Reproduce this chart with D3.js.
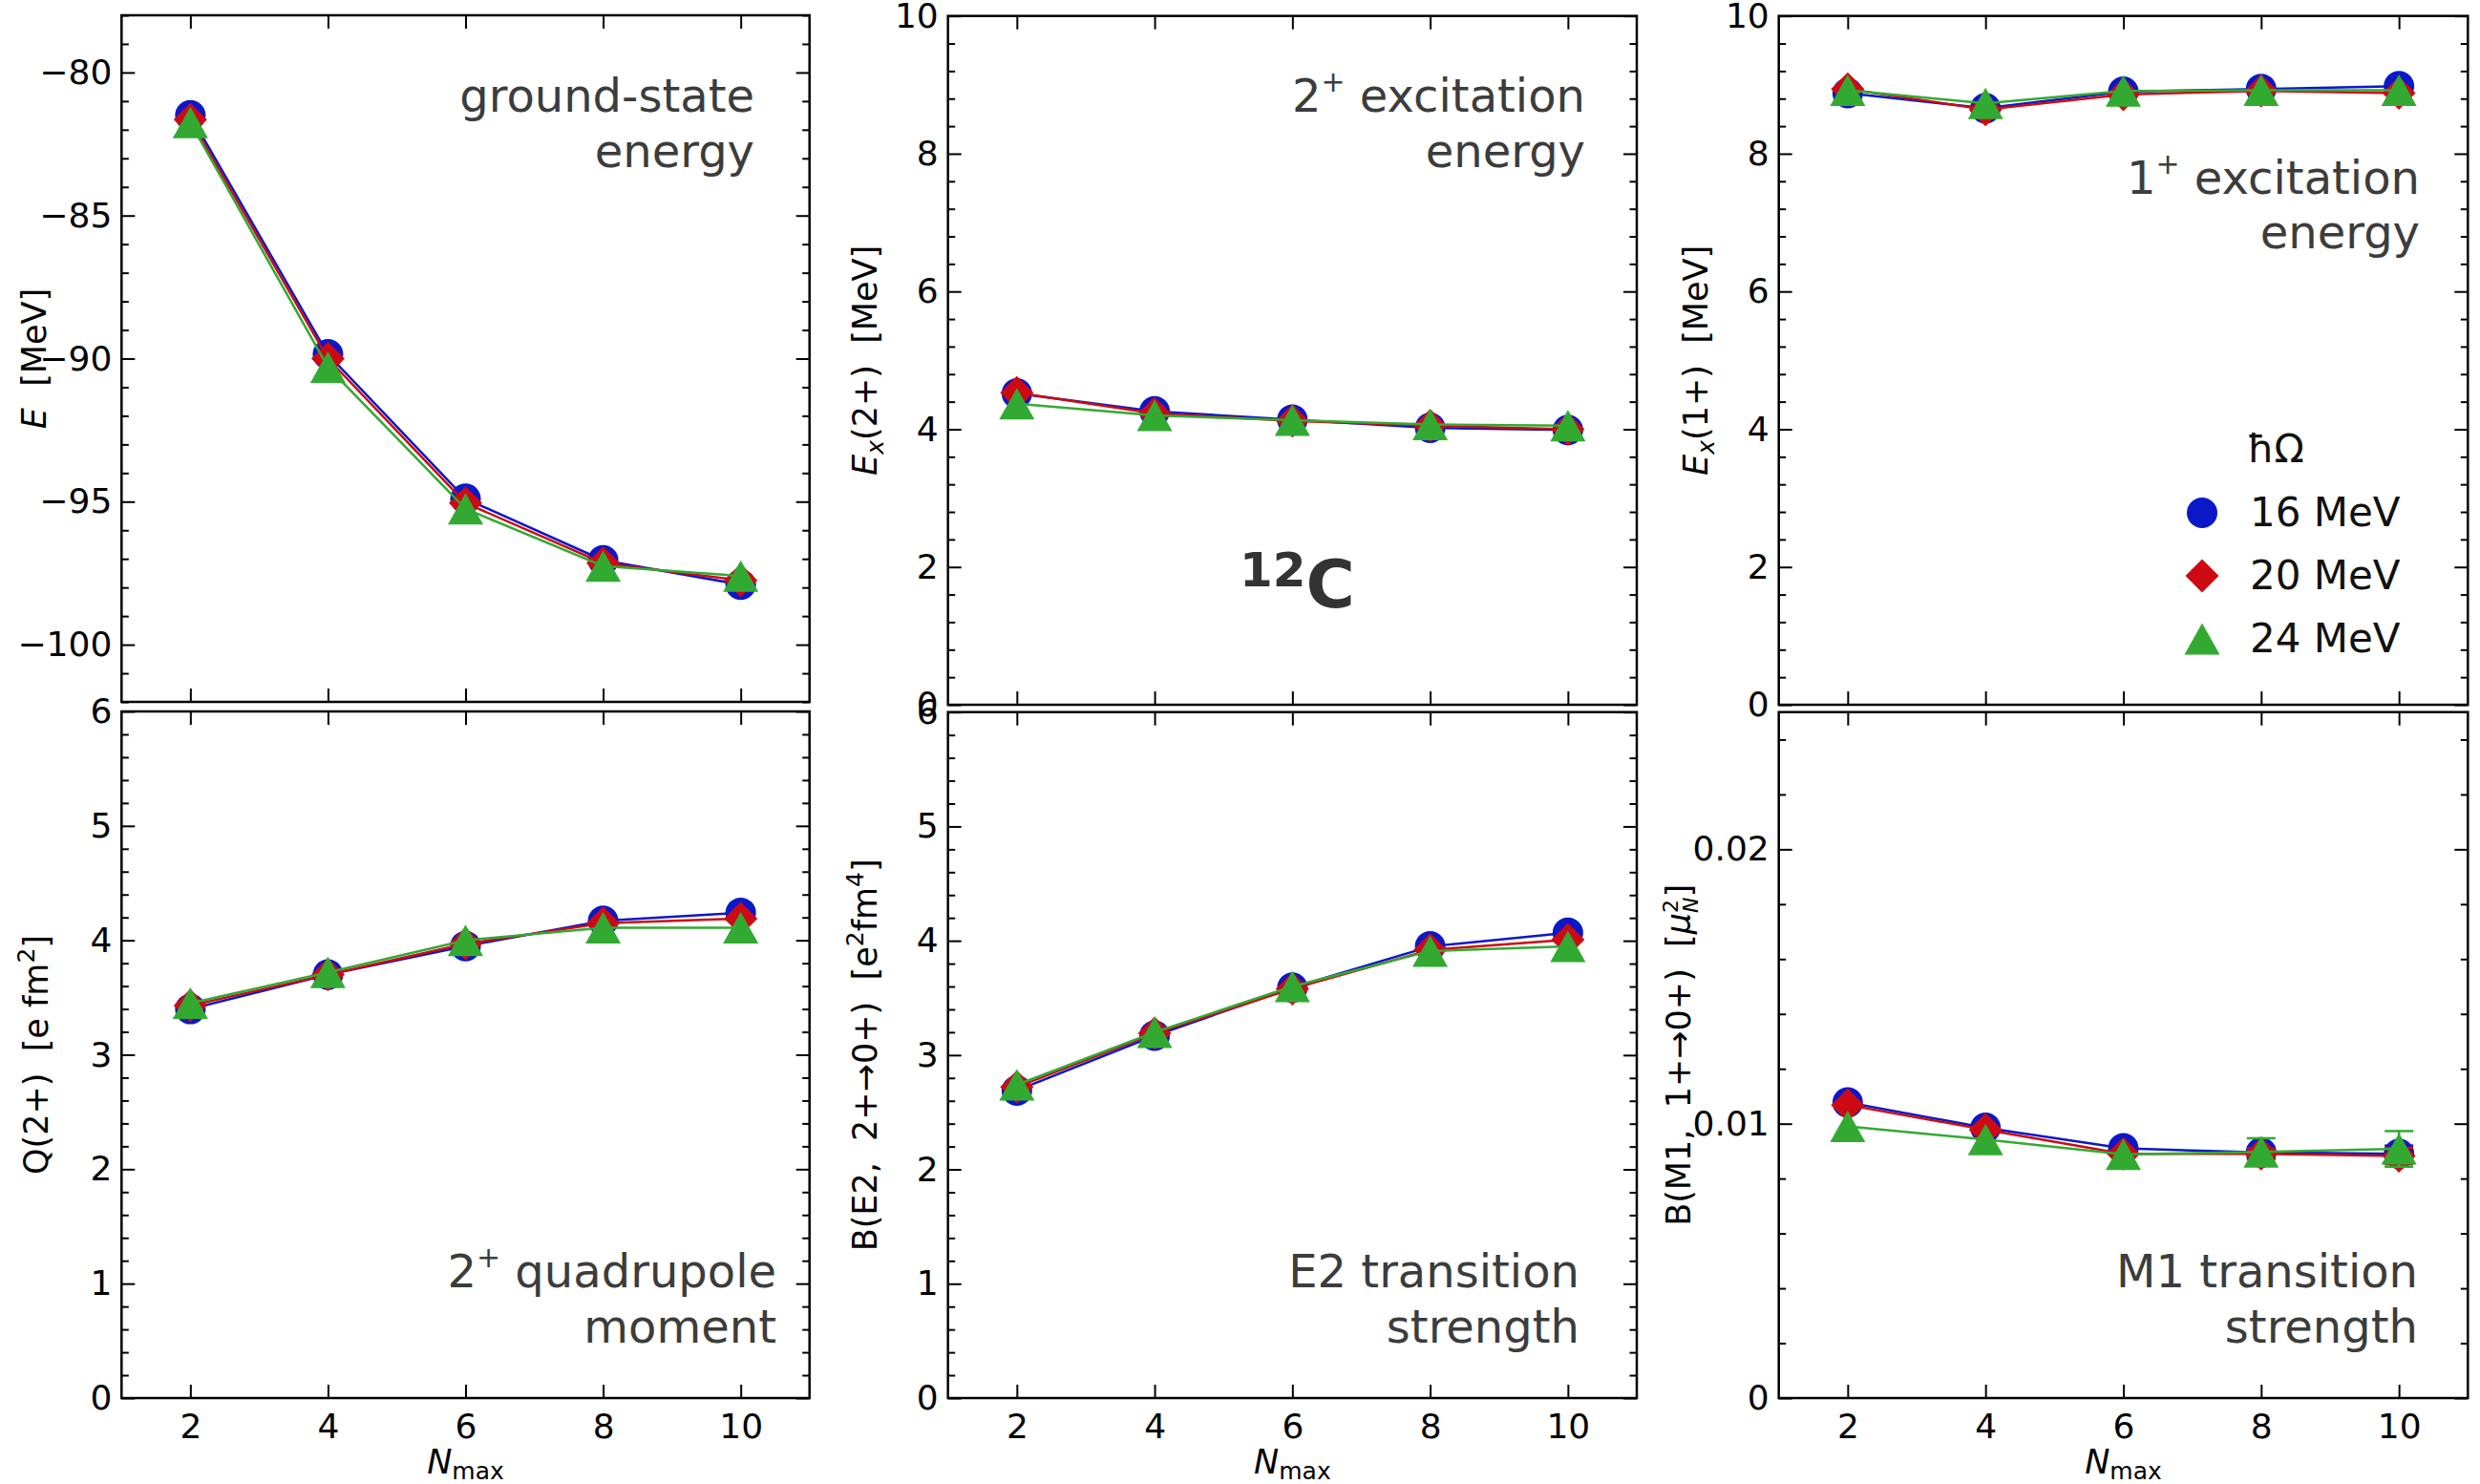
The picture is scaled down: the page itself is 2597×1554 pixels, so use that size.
<!DOCTYPE html>
<html>
<head>
<meta charset="utf-8">
<script src="https://cdn.jsdelivr.net/npm/d3@7"></script>
<style>
  body { margin: 0; background: #fff; }
  svg { display: block; }
  text { font-family: "DejaVu Sans", sans-serif; }
</style>
</head>
<body>
<div id="chart"></div>
<script>
// N_max values on the x axis
const nmax = [2, 4, 6, 8, 10];
const xTicks = [2, 4, 6, 8, 10];
const seriesNames = ["16 MeV", "20 MeV", "24 MeV"];

// ground-state energy [MeV]
const egs16 = [-81.5, -89.85, -94.9, -97.05, -97.9];
const egs20 = [-81.65, -90.0, -95.05, -97.15, -97.75];
const egs24 = [-81.75, -90.3, -95.25, -97.25, -97.6];
const egsTicks = [-100, -95, -90, -85, -80];

// 2+ excitation energy [MeV]
const ex2_16 = [4.52, 4.26, 4.14, 4.02, 3.99];
const ex2_20 = [4.53, 4.23, 4.12, 4.05, 4.0];
const ex2_24 = [4.37, 4.2, 4.13, 4.07, 4.05];
const exTicks = [0, 2, 4, 6, 8, 10];

// 1+ excitation energy [MeV]
const ex1_16 = [8.88, 8.66, 8.9, 8.94, 8.98];
const ex1_20 = [8.94, 8.64, 8.86, 8.91, 8.88];
const ex1_24 = [8.92, 8.73, 8.91, 8.92, 8.92];

// 2+ quadrupole moment [e fm^2]
const q2_16 = [3.40, 3.70, 3.95, 4.17, 4.24];
const q2_20 = [3.43, 3.70, 3.97, 4.15, 4.19];
const q2_24 = [3.45, 3.72, 4.0, 4.11, 4.11];
const qTicks = [0, 1, 2, 3, 4, 5, 6];

// B(E2) [e^2 fm^4]
const be2_16 = [2.69, 3.17, 3.59, 3.95, 4.07];
const be2_20 = [2.72, 3.19, 3.58, 3.92, 4.01];
const be2_24 = [2.74, 3.2, 3.6, 3.91, 3.95];

// B(M1) [mu_N^2] with error bars
const bm1_16 = [0.01077, 0.00985, 0.00910, 0.00895, 0.00890];
const bm1_20 = [0.01068, 0.00978, 0.00890, 0.00890, 0.00882];
const bm1_24 = [0.00990, 0.00942, 0.00888, 0.00897, 0.00908];
const bm1Err16 = [0, 0, 0, 0.0002, 0.0003];
const bm1Err20 = [0, 0, 0, 0.0002, 0.0003];
const bm1Err24 = [0, 0, 0, 0.0005, 0.00065];
const bm1Ticks = [0, 0.01, 0.02];

const colors = ["#0a18c8", "#cd0a14", "#32aa32"];
const shapes = ["circle", "diamond", "triangle"];

const W = 2597, H = 1554;
const svg = d3.select("#chart").append("svg")
  .attr("width", W).attr("height", H)
  .attr("viewBox", `0 0 ${W} ${H}`);
svg.append("rect").attr("width", W).attr("height", H).attr("fill", "#fff");

const panels = [
  { box: [127.3, 847.7, 16, 735], dom: [-102, -78], ticks: egsTicks, minor: 1,
    series: [egs16, egs20, egs24], label: "E", labOff: 79,
    note: ["ground-state", "energy"], noteX: 790, noteY: [117, 175] },
  { box: [992.7, 1714, 16.7, 738], dom: [0, 10], ticks: exTicks, minor: 0.4,
    series: [ex2_16, ex2_20, ex2_24], label: "ex2", labOff: 75,
    note: ["2|+| excitation", "energy"], noteX: 1660, noteY: [117, 175] },
  { box: [1862.7, 2584.3, 16.7, 738], dom: [0, 10], ticks: exTicks, minor: 0.4,
    series: [ex1_16, ex1_20, ex1_24], label: "ex1", labOff: 75,
    note: ["1|+| excitation", "energy"], noteX: 2534, noteY: [203, 260], legend: true },
  { box: [127.3, 847.7, 745, 1464], dom: [0, 6], ticks: qTicks, minor: 0.2,
    series: [q2_16, q2_20, q2_24], label: "q", labOff: 77, bottom: true,
    note: ["2|+| quadrupole", "moment"], noteX: 813, noteY: [1348, 1406] },
  { box: [992.7, 1714, 745.7, 1464], dom: [0, 6], ticks: qTicks, minor: 0.2,
    series: [be2_16, be2_20, be2_24], label: "be2", labOff: 75, bottom: true,
    note: ["E2 transition", "strength"], noteX: 1654, noteY: [1348, 1406] },
  { box: [1862.7, 2584.3, 745.7, 1464], dom: [0, 0.025], ticks: bm1Ticks, minor: 0.002,
    series: [bm1_16, bm1_20, bm1_24], errs: [bm1Err16, bm1Err20, bm1Err24],
    label: "bm1", labOff: 93, bottom: true, fmt: d => d === 0 ? "0" : d3.format(".2f")(d),
    note: ["M1 transition", "strength"], noteX: 2532, noteY: [1348, 1406] }
];

function drawMarker(g, shape, cx, cy, color) {
  if (shape === "circle") {
    g.append("circle").attr("cx", cx).attr("cy", cy).attr("r", 16).attr("fill", color);
  } else if (shape === "diamond") {
    const d = 17.5;
    g.append("path").attr("d", `M${cx},${cy - d}L${cx + d},${cy}L${cx},${cy + d}L${cx - d},${cy}Z`)
      .attr("fill", color);
  } else {
    const hw = 18.5, hh = 16.5;
    g.append("path").attr("d", `M${cx},${cy - hh}L${cx + hw},${cy + hh}L${cx - hw},${cy + hh}Z`)
      .attr("fill", color);
  }
}

function styleAxis(a) {
  a.select(".domain").remove();
  a.selectAll(".tick line").attr("stroke", "#000").attr("stroke-width", 2);
  a.selectAll(".tick text").attr("fill", "#000").style("font-size", "36px")
    .style("font-family", "DejaVu Sans");
}

function yLabel(g, p, x0, cy) {
  const t = g.append("text")
    .attr("transform", `translate(${x0 - p.labOff},${cy}) rotate(-90)`)
    .attr("text-anchor", "middle").style("font-size", "35px").attr("fill", "#000");
  if (p.label === "E") {
    t.append("tspan").style("font-style", "italic").text("E");
    t.append("tspan").text("\u00a0\u00a0[MeV]");
  } else if (p.label === "ex2" || p.label === "ex1") {
    t.append("tspan").style("font-style", "italic").text("E");
    t.append("tspan").style("font-style", "italic").style("font-size", "25px").attr("dy", 7).text("x");
    t.append("tspan").attr("dy", -7).text(p.label === "ex2" ? "(2+)\u00a0\u00a0[MeV]" : "(1+)\u00a0\u00a0[MeV]");
  } else if (p.label === "q") {
    t.append("tspan").text("Q(2+)\u00a0\u00a0[e fm");
    t.append("tspan").style("font-size", "25px").attr("dy", -14).text("2");
    t.append("tspan").attr("dy", 14).text("]");
  } else if (p.label === "be2") {
    t.append("tspan").text("B(E2,\u00a0 2+\u21920+)\u00a0\u00a0[e");
    t.append("tspan").style("font-size", "25px").attr("dy", -14).text("2");
    t.append("tspan").attr("dy", 14).text("fm");
    t.append("tspan").style("font-size", "25px").attr("dy", -14).text("4");
    t.append("tspan").attr("dy", 14).text("]");
  } else {
    t.append("tspan").text("B(M1,\u00a0 1+\u21920+)\u00a0\u00a0[");
    t.append("tspan").style("font-style", "italic").text("\u03bc");
    t.append("tspan").style("font-size", "22px").attr("dy", -13).text("2");
    t.append("tspan").style("font-size", "22px").style("font-style", "italic")
      .attr("dx", -14).attr("dy", 21).text("N");
    t.append("tspan").attr("dy", -8).text("]");
  }
}

panels.forEach(p => {
  const [x0, x1, y0, y1] = p.box;
  const g = svg.append("g");
  const x = d3.scaleLinear().domain([1, 11]).range([x0, x1]);
  const y = d3.scaleLinear().domain(p.dom).range([y1, y0]);
  const fmt = p.fmt || (d => d3.format("d")(d).replace("-", "\u2212"));

  const minorVals = d3.range(p.dom[0], p.dom[1] + p.minor / 2, p.minor)
    .filter(v => !p.ticks.some(t => Math.abs(t - v) < p.minor / 4));

  // left / right y ticks (inward)
  styleAxis(g.append("g").attr("transform", `translate(${x0},0)`)
    .call(d3.axisLeft(y).tickValues(p.ticks).tickSize(-14).tickPadding(10).tickFormat(fmt)));
  styleAxis(g.append("g").attr("transform", `translate(${x0},0)`)
    .call(d3.axisLeft(y).tickValues(minorVals).tickSize(-7.5).tickFormat("")));
  styleAxis(g.append("g").attr("transform", `translate(${x1},0)`)
    .call(d3.axisRight(y).tickValues(p.ticks).tickSize(-14).tickFormat("")));
  styleAxis(g.append("g").attr("transform", `translate(${x1},0)`)
    .call(d3.axisRight(y).tickValues(minorVals).tickSize(-7.5).tickFormat("")));
  // top / bottom x ticks
  styleAxis(g.append("g").attr("transform", `translate(0,${y0})`)
    .call(d3.axisTop(x).tickValues(xTicks).tickSize(-14).tickFormat("")));
  styleAxis(g.append("g").attr("transform", `translate(0,${y1})`)
    .call(d3.axisBottom(x).tickValues(xTicks).tickSize(-14).tickPadding(16)
      .tickFormat(p.bottom ? d3.format("d") : "")));

  g.append("rect").attr("x", x0).attr("y", y0).attr("width", x1 - x0).attr("height", y1 - y0)
    .attr("fill", "none").attr("stroke", "#000").attr("stroke-width", 2.5);

  // notes
  p.note.forEach((line, i) => {
    const t = g.append("text").attr("x", p.noteX).attr("y", p.noteY[i])
      .attr("text-anchor", "end").attr("fill", "#3c3c3c").style("font-size", "48px");
    const parts = line.split("|");
    if (parts.length === 3) {
      t.append("tspan").text(parts[0]);
      t.append("tspan").style("font-size", "30px").attr("dy", -21).text(parts[1]);
      t.append("tspan").attr("dy", 21).text(parts[2]);
    } else {
      t.text(line);
    }
  });

  yLabel(g, p, x0, (y0 + y1) / 2);

  if (p.bottom) {
    const t = g.append("text").attr("x", (x0 + x1) / 2).attr("y", 1543)
      .attr("text-anchor", "middle").style("font-size", "35px").attr("fill", "#000");
    t.append("tspan").style("font-style", "italic").text("N");
    t.append("tspan").style("font-size", "25px").attr("dy", 6).text("max");
  }

  const line = d3.line().x((d, i) => x(nmax[i])).y(d => y(d));
  p.series.forEach((vals, s) => {
    const sg = g.append("g");
    if (p.errs) {
      vals.forEach((v, i) => {
        const e = p.errs[s][i];
        if (!e) return;
        const cx = x(nmax[i]);
        sg.append("line").attr("x1", cx).attr("x2", cx).attr("y1", y(v - e)).attr("y2", y(v + e))
          .attr("stroke", colors[s]).attr("stroke-width", 2.5);
        [v - e, v + e].forEach(c => sg.append("line").attr("x1", cx - 15).attr("x2", cx + 15)
          .attr("y1", y(c)).attr("y2", y(c)).attr("stroke", colors[s]).attr("stroke-width", 2.5));
      });
    }
    sg.append("path").attr("d", line(vals)).attr("fill", "none")
      .attr("stroke", colors[s]).attr("stroke-width", 2.5);
    vals.forEach((v, i) => drawMarker(sg, shapes[s], x(nmax[i]), y(v), colors[s]));
  });

  if (p.legend) {
    g.append("text").attr("x", 2353).attr("y", 484).style("font-size", "41px")
      .attr("fill", "#111").text("\u0127\u03a9");
    seriesNames.forEach((name, s) => {
      const cy = 537 + s * 66;
      drawMarker(g, shapes[s], 2306, cy, colors[s]);
      g.append("text").attr("x", 2356).attr("y", cy + 14).style("font-size", "42px")
        .attr("fill", "#111").text(name);
    });
  }
});

// 12C nucleus label
const nuc = svg.append("text").attr("x", 1298).attr("y", 636)
  .attr("fill", "#333").style("font-weight", "bold");
nuc.append("tspan").style("font-size", "50px").attr("dy", -22).text("12");
nuc.append("tspan").style("font-size", "70px").attr("dy", 22).text("C");
</script>
</body>
</html>
